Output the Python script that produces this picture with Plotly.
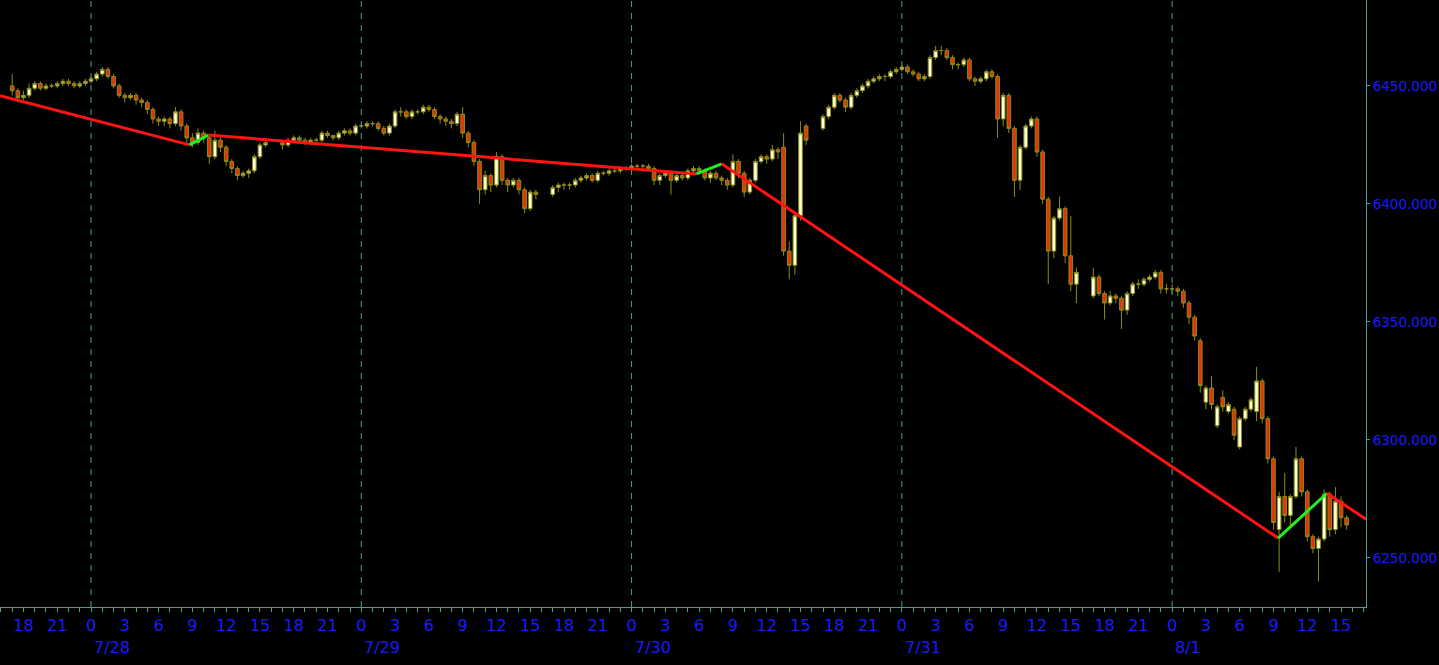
import pandas as pd
import plotly.graph_objects as go

# ---------------- data ----------------
session_starts = ["2025-07-27 17:00", "2025-07-28 17:00", "2025-07-29 17:00",
                  "2025-07-30 17:00", "2025-07-31 17:00"]
bars_per_session = 46

opens = [
    # 7/27 17:00 - 7/28 15:30
    6450, 6448, 6445, 6446, 6449, 6451, 6449, 6450, 6450, 6451, 6452, 6451, 6450, 6451, 6452, 6453,
    6455, 6457, 6454, 6450, 6446, 6445, 6446, 6444, 6443, 6440, 6436, 6435, 6436, 6434, 6439, 6433,
    6428, 6426, 6430, 6428, 6420, 6427, 6424, 6418, 6415, 6412, 6413, 6414, 6420, 6425,
    # 7/28 17:00 - 7/29 15:30
    6426, 6425, 6427, 6428, 6427, 6426, 6427, 6427, 6430, 6429, 6428, 6430, 6431, 6430, 6433, 6433,
    6434, 6434, 6432, 6430, 6433, 6439, 6439, 6437, 6439, 6439, 6441, 6440, 6437, 6436, 6435, 6434,
    6438, 6430, 6426, 6418, 6406, 6412, 6408, 6420, 6410, 6408, 6410, 6406, 6398, 6405,
    # 7/29 17:00 - 7/30 15:30
    6404, 6407, 6408, 6408, 6408, 6410, 6411, 6412, 6410, 6413, 6413, 6414, 6414, 6415, 6415, 6416,
    6416, 6416, 6415, 6410, 6412, 6413, 6410, 6412, 6411, 6414, 6415, 6414, 6411, 6413, 6411, 6410,
    6408, 6418, 6413, 6405, 6410, 6418, 6420, 6419, 6423, 6424, 6380, 6374, 6395, 6433,
    # 7/30 17:00 - 7/31 15:30
    6432, 6437, 6441, 6446, 6444, 6441, 6446, 6448, 6450, 6452, 6453, 6454, 6454, 6456, 6457, 6458,
    6456, 6455, 6453, 6454, 6462, 6465, 6465, 6462, 6459, 6459, 6461, 6453, 6452, 6453, 6456, 6454,
    6436, 6446, 6432, 6410, 6424, 6433, 6436, 6422, 6402, 6380, 6394, 6398, 6378, 6366,
    # 7/31 17:00 - 8/1 15:30
    6361, 6369, 6362, 6358, 6361, 6360, 6355, 6362, 6366, 6366, 6368, 6369, 6371, 6364, 6364, 6364,
    6363, 6358, 6352, 6342, 6316, 6322, 6306, 6318, 6312, 6313, 6297, 6309, 6313, 6312, 6325, 6309,
    6292, 6262, 6276, 6268, 6276, 6292, 6278, 6259, 6254, 6258, 6277, 6262, 6274, 6267,
]

highs = [
    6455, 6449, 6448, 6451, 6452, 6452, 6451, 6451, 6452, 6453, 6453, 6452, 6452, 6453, 6454, 6456,
    6458, 6458, 6455, 6451, 6447, 6447, 6447, 6445, 6444, 6441, 6437, 6437, 6437, 6441, 6440, 6434,
    6430, 6432, 6431, 6429, 6431, 6428, 6425, 6419, 6416, 6414, 6415, 6421, 6426, 6427,

    6427, 6428, 6429, 6429, 6428, 6428, 6428, 6431, 6431, 6429, 6431, 6432, 6432, 6434, 6434, 6435,
    6435, 6435, 6433, 6434, 6440, 6441, 6440, 6440, 6440, 6442, 6442, 6441, 6438, 6437, 6436, 6439,
    6441, 6431, 6427, 6419, 6414, 6413, 6422, 6421, 6411, 6411, 6411, 6407, 6406, 6406,

    6408, 6409, 6409, 6409, 6411, 6412, 6413, 6413, 6414, 6414, 6415, 6415, 6416, 6416, 6417, 6417,
    6417, 6417, 6416, 6413, 6414, 6414, 6413, 6413, 6415, 6416, 6416, 6415, 6414, 6414, 6412, 6411,
    6421, 6419, 6414, 6411, 6419, 6421, 6421, 6425, 6424, 6430, 6384, 6397, 6435, 6434,

    6438, 6442, 6447, 6447, 6445, 6447, 6449, 6451, 6453, 6454, 6455, 6455, 6457, 6458, 6459, 6459,
    6457, 6456, 6455, 6463, 6467, 6467, 6466, 6463, 6460, 6462, 6462, 6454, 6454, 6457, 6457, 6455,
    6447, 6447, 6433, 6425, 6434, 6437, 6437, 6423, 6403, 6395, 6403, 6399, 6395, 6373,

    6373, 6370, 6363, 6363, 6362, 6361, 6363, 6367, 6368, 6369, 6370, 6372, 6372, 6366, 6366, 6365,
    6364, 6359, 6353, 6343, 6323, 6327, 6315, 6321, 6316, 6314, 6310, 6314, 6318, 6331, 6326, 6310,
    6293, 6278, 6286, 6277, 6297, 6293, 6279, 6260, 6259, 6279, 6278, 6280, 6276, 6268,
]

lows = [
    6446, 6443, 6444, 6445, 6448, 6448, 6448, 6449, 6449, 6450, 6450, 6449, 6449, 6450, 6451, 6452,
    6454, 6453, 6449, 6445, 6443, 6444, 6442, 6441, 6438, 6434, 6433, 6433, 6432, 6433, 6431, 6426,
    6424, 6425, 6426, 6417, 6419, 6422, 6416, 6413, 6410, 6411, 6411, 6413, 6419, 6424,

    6423, 6424, 6426, 6426, 6425, 6425, 6426, 6426, 6428, 6427, 6427, 6429, 6429, 6429, 6432, 6432,
    6433, 6431, 6429, 6429, 6432, 6437, 6436, 6436, 6438, 6438, 6439, 6436, 6434, 6433, 6432, 6433,
    6428, 6424, 6416, 6400, 6404, 6405, 6407, 6408, 6405, 6407, 6404, 6396, 6397, 6402,

    6403, 6405, 6406, 6406, 6407, 6409, 6410, 6409, 6409, 6412, 6412, 6413, 6413, 6414, 6414, 6415,
    6415, 6414, 6408, 6408, 6411, 6404, 6409, 6410, 6410, 6413, 6413, 6410, 6409, 6410, 6408, 6406,
    6407, 6411, 6403, 6404, 6409, 6417, 6417, 6418, 6419, 6378, 6368, 6370, 6393, 6425,

    6431, 6436, 6440, 6443, 6439, 6440, 6445, 6447, 6449, 6451, 6452, 6452, 6453, 6455, 6456, 6455,
    6454, 6452, 6452, 6453, 6461, 6463, 6461, 6457, 6457, 6458, 6452, 6450, 6451, 6452, 6453, 6428,
    6433, 6430, 6403, 6406, 6423, 6432, 6420, 6400, 6366, 6377, 6393, 6375, 6363, 6358,

    6360, 6361, 6351, 6357, 6358, 6347, 6353, 6361, 6364, 6365, 6367, 6368, 6362, 6362, 6362, 6361,
    6356, 6349, 6342, 6320, 6313, 6313, 6305, 6312, 6311, 6300, 6296, 6308, 6312, 6308, 6307, 6290,
    6262, 6244, 6265, 6263, 6275, 6276, 6257, 6252, 6240, 6257, 6259, 6260, 6263, 6262,
]

closes = [
    6448, 6445, 6446, 6449, 6451, 6449, 6450, 6450, 6451, 6452, 6451, 6450, 6451, 6452, 6453, 6455,
    6457, 6454, 6450, 6446, 6445, 6446, 6444, 6443, 6440, 6436, 6435, 6436, 6434, 6439, 6433, 6428,
    6426, 6430, 6428, 6420, 6427, 6424, 6418, 6415, 6412, 6413, 6414, 6420, 6425, 6426,

    6425, 6427, 6428, 6427, 6426, 6427, 6427, 6430, 6429, 6428, 6430, 6431, 6430, 6433, 6433, 6434,
    6434, 6432, 6430, 6433, 6439, 6439, 6437, 6439, 6439, 6441, 6440, 6437, 6436, 6435, 6434, 6438,
    6430, 6426, 6418, 6406, 6412, 6408, 6420, 6410, 6408, 6410, 6406, 6398, 6405, 6404,

    6407, 6408, 6408, 6408, 6410, 6411, 6412, 6410, 6413, 6413, 6414, 6414, 6415, 6415, 6416, 6416,
    6416, 6415, 6410, 6412, 6413, 6410, 6412, 6411, 6414, 6415, 6414, 6411, 6413, 6411, 6410, 6408,
    6418, 6413, 6405, 6410, 6418, 6420, 6419, 6423, 6422, 6380, 6374, 6395, 6430, 6427,

    6437, 6441, 6446, 6444, 6441, 6446, 6448, 6450, 6452, 6453, 6454, 6454, 6456, 6457, 6458, 6456,
    6455, 6453, 6454, 6462, 6465, 6465, 6462, 6459, 6459, 6461, 6453, 6452, 6453, 6456, 6454, 6436,
    6446, 6432, 6410, 6424, 6433, 6436, 6422, 6402, 6380, 6394, 6398, 6378, 6366, 6371,

    6369, 6362, 6358, 6361, 6360, 6355, 6362, 6366, 6366, 6368, 6369, 6371, 6364, 6364, 6364, 6363,
    6358, 6352, 6344, 6323, 6322, 6315, 6314, 6314, 6315, 6302, 6309, 6313, 6317, 6325, 6309, 6292,
    6265, 6276, 6268, 6276, 6292, 6278, 6259, 6254, 6258, 6277, 6262, 6274, 6267, 6264,
]

# zigzag pivots
zz_times = ["2025-07-27 15:55", "2025-07-28 08:45", "2025-07-28 10:25", "2025-07-30 05:45",
            "2025-07-30 08:00", "2025-08-01 09:25", "2025-08-01 13:45", "2025-08-01 17:13"]
zz_prices = [6445.8, 6425.0, 6429.2, 6412.7, 6417.0, 6258.4, 6277.4, 6266.4]

day_starts = ["2025-07-28", "2025-07-29", "2025-07-30", "2025-07-31", "2025-08-01"]
day_labels = ["7/28", "7/29", "7/30", "7/31", "8/1"]
y_ticks = [6250, 6300, 6350, 6400, 6450]
x_range = ["2025-07-27 15:55", "2025-08-01 17:13"]
y_range = [6229.2, 6486.4]

# ---------------- styling ----------------
TEAL = "#45a0a0"
BLUE = "#1a1aff"
OLIVE = "#8c8c14"
UP_FILL = "#ffffd8"
DOWN_FILL = "#e8300a"
FONT = "DejaVu Sans"

times = []
for s in session_starts:
    times += list(pd.date_range(s, periods=bars_per_session, freq="30min"))

fig = go.Figure()
fig.add_trace(go.Candlestick(
    x=times, open=opens, high=highs, low=lows, close=closes,
    increasing=dict(fillcolor=UP_FILL, line=dict(color=OLIVE, width=1)),
    decreasing=dict(fillcolor=DOWN_FILL, line=dict(color=OLIVE, width=1)),
    whiskerwidth=0, hoverinfo="skip",
))

for i in range(len(zz_times) - 1):
    color = "#22ee22" if zz_prices[i + 1] > zz_prices[i] else "#ff1414"
    fig.add_trace(go.Scatter(
        x=[zz_times[i], zz_times[i + 1]], y=[zz_prices[i], zz_prices[i + 1]],
        mode="lines", line=dict(color=color, width=3), hoverinfo="skip",
    ))

for d in day_starts:
    fig.add_shape(type="line", x0=d, x1=d, y0=0, y1=1, xref="x", yref="paper",
                  line=dict(color=TEAL, width=1, dash="6px,6px"), layer="below")

for d, lab in zip(day_starts, day_labels):
    fig.add_annotation(x=d, y=-0.066, xref="x", yref="paper", text=lab, showarrow=False,
                       xanchor="left", yanchor="middle", xshift=1,
                       font=dict(family=FONT, size=16, color=BLUE))

hour_ticks = pd.date_range("2025-07-27 18:00", "2025-08-01 15:00", freq="3h")

fig.update_layout(
    width=1439, height=665,
    margin=dict(l=0, r=73, t=0, b=58),
    paper_bgcolor="black", plot_bgcolor="black",
    showlegend=False,
    boxgap=0.08,
    xaxis=dict(
        type="date", range=x_range, rangeslider=dict(visible=False), automargin=False,
        showgrid=False, zeroline=False, showline=True, linecolor=TEAL, linewidth=1,
        ticks="outside", ticklen=4, tickcolor=TEAL,
        tickmode="array", tickvals=list(hour_ticks), ticktext=[str(t.hour) for t in hour_ticks],
        tickfont=dict(family=FONT, size=16, color=BLUE),
        minor=dict(ticks="outside", ticklen=4, tickcolor=TEAL, dtick=3600000,
                   tick0="2025-07-27 00:00", showgrid=False),
    ),
    yaxis=dict(
        side="right", range=y_range, tickmode="array", tickvals=y_ticks, tickformat=".3f",
        automargin=False,
        showgrid=False, zeroline=False, showline=True, linecolor=TEAL, linewidth=1,
        ticks="outside", ticklen=3, tickcolor=TEAL,
        tickfont=dict(family=FONT, size=13.5, color=BLUE),
    ),
)

fig.write_html("out.html", config={"displayModeBar": False},
               post_script="document.body.style.margin='0';document.body.style.overflow='hidden';")
